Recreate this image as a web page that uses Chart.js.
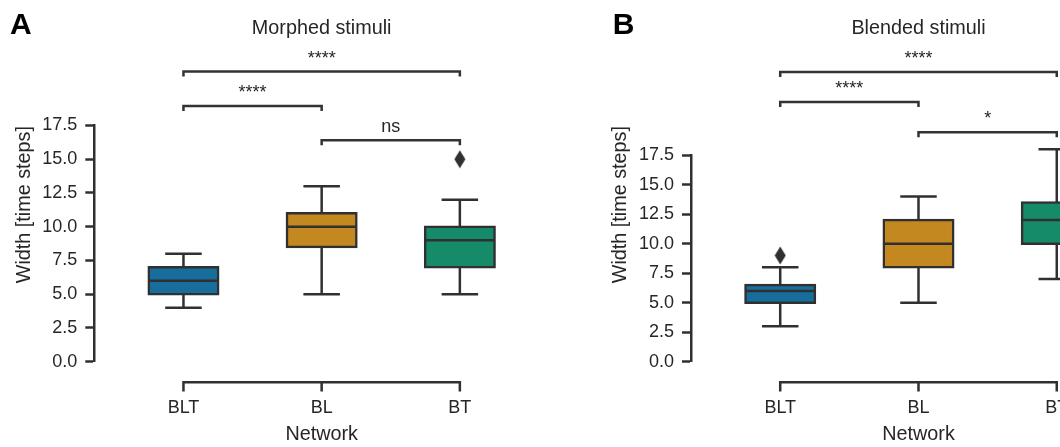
<!DOCTYPE html>
<html>
<head>
<meta charset="utf-8">
<script src="https://cdn.jsdelivr.net/npm/chart.js@4"></script>
<style>
  html, body { margin: 0; padding: 0; background: #fff; overflow: hidden; }
  .panel { position: absolute; top: 0; width: 530px; height: 447px; overflow: hidden; }
  #wrapA { left: 0; }
  #wrapB { left: 530px; }
  canvas { display: block; }
</style>
</head>
<body>
<div class="panel" id="wrapA"><canvas id="chartA" width="530" height="447"></canvas></div>
<div class="panel" id="wrapB"><canvas id="chartB" width="620" height="447"></canvas></div>
<script>
// ---------------- DATA ----------------
const categories = ['BLT', 'BL', 'BT'];
const yTickValues = [0, 2.5, 5, 7.5, 10, 12.5, 15, 17.5];
const yTickLabels = ['0.0', '2.5', '5.0', '7.5', '10.0', '12.5', '15.0', '17.5'];

// Panel A: Morphed stimuli
const morphedLow = [4, 5, 5];
const morphedQ1 = [5, 8.5, 7];
const morphedMedian = [6, 10, 9];
const morphedQ3 = [7, 11, 10];
const morphedHigh = [8, 13, 12];
const morphedOutliers = [[], [], [15]];
const morphedPairs = [[0, 2], [0, 1], [1, 2]];
const morphedPairLevels = [21.5, 18.95, 16.4];
const morphedPairLabels = ['****', '****', 'ns'];

// Panel B: Blended stimuli
const blendedLow = [3, 5, 7];
const blendedQ1 = [5, 8, 10];
const blendedMedian = [6, 10, 12];
const blendedQ3 = [6.5, 12, 13.5];
const blendedHigh = [8, 14, 18];
const blendedOutliers = [[9], [], []];
const blendedPairs = [[0, 2], [0, 1], [1, 2]];
const blendedPairLevels = [24.55, 22.0, 19.45];
const blendedPairLabels = ['****', '****', '*'];

// ---------------- STYLE ----------------
const BOX_COLORS = ['#176D9C', '#C38820', '#168B6A'];
const LINE = '#303030';
const TEXT = '#262626';
const FONT = "'Liberation Sans', Arial, Helvetica, sans-serif";
const LW = 2.5;
const CAP_HALF = 17;
const BOX_HALF = 35;
const X_SPINE_OFFSET = 20.6;
const TICK_LEN = 9.3;

function diamondMarker() {
  const c = document.createElement('canvas');
  c.width = 12; c.height = 19;
  const g = c.getContext('2d');
  g.fillStyle = LINE;
  g.beginPath();
  g.moveTo(6, 0.5); g.lineTo(11.5, 9.5); g.lineTo(6, 18.5); g.lineTo(0.5, 9.5);
  g.closePath(); g.fill();
  return c;
}
const DIAMOND = diamondMarker();

function seg(ctx, x1, y1, x2, y2) {
  ctx.beginPath(); ctx.moveTo(x1, y1); ctx.lineTo(x2, y2); ctx.stroke();
}

function extrasPlugin(p) {
  return {
    id: 'extras' + p.key,
    beforeDatasetsDraw(chart) {
      const { ctx, scales: { x, y } } = chart;
      ctx.save();
      ctx.strokeStyle = LINE; ctx.lineWidth = LW;
      categories.forEach((c, i) => {
        const px = x.getPixelForValue(i);
        const yl = y.getPixelForValue(p.low[i]);
        const yh = y.getPixelForValue(p.high[i]);
        ctx.lineCap = 'butt';
        seg(ctx, px, yl, px, y.getPixelForValue(p.q1[i]));
        seg(ctx, px, y.getPixelForValue(p.q3[i]), px, yh);
        ctx.lineCap = 'square';
        seg(ctx, px - CAP_HALF, yl, px + CAP_HALF, yl);
        seg(ctx, px - CAP_HALF, yh, px + CAP_HALF, yh);
      });
      ctx.restore();
    },
    afterDatasetsDraw(chart) {
      const { ctx, scales: { x, y } } = chart;
      ctx.save();
      ctx.strokeStyle = LINE; ctx.lineWidth = LW; ctx.lineCap = 'butt';
      categories.forEach((c, i) => {
        const px = x.getPixelForValue(i);
        const ym = y.getPixelForValue(p.median[i]);
        seg(ctx, px - BOX_HALF, ym, px + BOX_HALF, ym);
      });
      ctx.restore();
    },
    afterDraw(chart) {
      const { ctx, scales: { x, y } } = chart;
      const xs = categories.map((c, i) => x.getPixelForValue(i));
      ctx.save();
      // significance brackets
      ctx.strokeStyle = '#333'; ctx.lineWidth = LW; ctx.lineJoin = 'miter'; ctx.lineCap = 'butt';
      ctx.fillStyle = TEXT;
      ctx.font = '18px ' + FONT;
      ctx.textAlign = 'center'; ctx.textBaseline = 'alphabetic';
      p.pairs.forEach((pr, k) => {
        const yl = y.getPixelForValue(p.levels[k]);
        const x1 = xs[pr[0]], x2 = xs[pr[1]];
        ctx.beginPath();
        ctx.moveTo(x1, yl + 5); ctx.lineTo(x1, yl); ctx.lineTo(x2, yl); ctx.lineTo(x2, yl + 5);
        ctx.stroke();
        ctx.fillText(p.labels[k], (x1 + x2) / 2, yl - 8);
      });
      // trimmed, offset x axis
      const y0 = y.getPixelForValue(0) + X_SPINE_OFFSET;
      ctx.strokeStyle = LINE;
      ctx.beginPath();
      ctx.moveTo(xs[0], y0 + TICK_LEN); ctx.lineTo(xs[0], y0);
      ctx.lineTo(xs[xs.length - 1], y0); ctx.lineTo(xs[xs.length - 1], y0 + TICK_LEN);
      for (let i = 1; i < xs.length - 1; i++) { ctx.moveTo(xs[i], y0); ctx.lineTo(xs[i], y0 + TICK_LEN); }
      ctx.stroke();
      ctx.fillStyle = TEXT;
      ctx.font = '18px ' + FONT;
      categories.forEach((c, i) => ctx.fillText(c, xs[i], y0 + 30.4));
      ctx.font = '19.8px ' + FONT;
      ctx.fillText('Network', xs[1], y0 + 58);
      // title
      ctx.fillText(p.title, xs[1], 34);
      // y label
      ctx.save();
      ctx.translate(p.yLabelX, 204.6);
      ctx.rotate(-Math.PI / 2);
      ctx.fillText('Width [time steps]', 0, 0);
      ctx.restore();
      // panel letter
      ctx.fillStyle = '#000';
      ctx.font = 'bold 30px ' + FONT;
      ctx.textAlign = 'left';
      ctx.fillText(p.letter, p.letterX, 34.2);
      ctx.restore();
    }
  };
}

function makeChart(canvasId, p) {
  const boxData = categories.map((c, i) => ({ x: i, y: [p.q1[i], p.q3[i]] }));
  const outlierData = [];
  p.outliers.forEach((arr, i) => arr.forEach(v => outlierData.push({ x: i, y: v })));
  const canvas = document.getElementById(canvasId);
  const W = canvas.width;
  const xMin = -0.6452;
  const pxPerCat = 139.8;
  const xMax = xMin + (W - p.spineX) / pxPerCat;
  return new Chart(canvas, {
    type: 'bar',
    data: {
      datasets: [
        {
          type: 'bar',
          data: boxData,
          backgroundColor: BOX_COLORS,
          borderColor: LINE,
          borderWidth: LW,
          borderSkipped: false,
          inflateAmount: 1.25,
          barThickness: 69.5,
          order: 2
        },
        {
          type: 'scatter',
          data: outlierData,
          pointStyle: DIAMOND,
          backgroundColor: LINE,
          borderColor: LINE,
          showLine: false,
          clip: false,
          order: 1
        }
      ]
    },
    options: {
      responsive: false,
      animation: false,
      devicePixelRatio: 1,
      events: [],
      layout: { padding: { left: 0, right: 0, top: p.top, bottom: 447 - p.zeroY } },
      plugins: { legend: { display: false }, tooltip: { enabled: false } },
      scales: {
        x: {
          type: 'linear', min: xMin, max: xMax, offset: false, display: false
        },
        y: {
          type: 'linear', position: 'left', min: 0, max: 17.5,
          afterFit(s) { s.width = p.spineX; },
          afterBuildTicks(s) { s.ticks = yTickValues.map(v => ({ value: v })); },
          border: { display: true, color: LINE, width: LW },
          grid: { display: true, drawOnChartArea: false, drawTicks: true, tickLength: 9, tickWidth: LW, tickColor: LINE },
          ticks: {
            autoSkip: false, padding: 8, color: TEXT,
            font: { family: FONT, size: 18 },
            callback: (v, i) => yTickLabels[i]
          }
        }
      }
    },
    plugins: [extrasPlugin(p)]
  });
}

makeChart('chartA', {
  key: 'A', letter: 'A', title: 'Morphed stimuli',
  low: morphedLow, q1: morphedQ1, median: morphedMedian, q3: morphedQ3, high: morphedHigh,
  outliers: morphedOutliers, pairs: morphedPairs, levels: morphedPairLevels, labels: morphedPairLabels,
  spineX: 94.3, top: 125.5, zeroY: 361.7, letterX: 10, yLabelX: 29.7
});
makeChart('chartB', {
  key: 'B', letter: 'B', title: 'Blended stimuli',
  low: blendedLow, q1: blendedQ1, median: blendedMedian, q3: blendedQ3, high: blendedHigh,
  outliers: blendedOutliers, pairs: blendedPairs, levels: blendedPairLevels, labels: blendedPairLabels,
  spineX: 161, top: 155.2, zeroY: 361.7, letterX: 82.7, yLabelX: 95.5
});
</script>
</body>
</html>
